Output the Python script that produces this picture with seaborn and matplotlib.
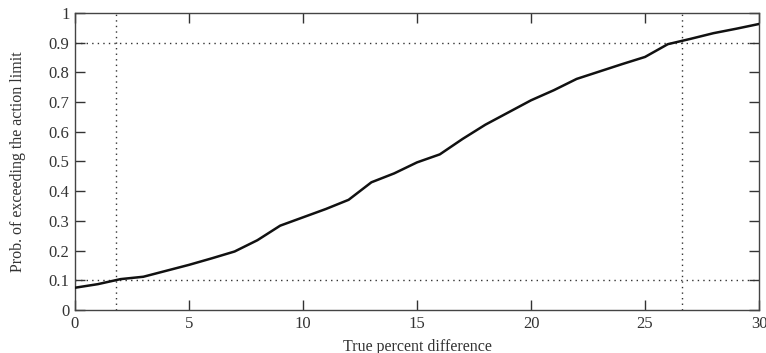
import numpy as np
import pandas as pd
import seaborn as sns
import matplotlib.pyplot as plt

# values
pct_diff = [0, 1, 2, 3, 4, 5, 6, 7, 8, 9, 10, 11, 12, 13, 14, 15,
            16, 17, 18, 19, 20, 21, 22, 23, 24, 25, 26, 27, 28, 29, 30]
prob_exceed = [0.075, 0.087, 0.104, 0.112, 0.132, 0.152, 0.174, 0.197, 0.235, 0.284, 0.312,
               0.340, 0.371, 0.430, 0.460, 0.497, 0.524, 0.576, 0.624, 0.665, 0.706,
               0.740, 0.778, 0.803, 0.828, 0.852, 0.895, 0.913, 0.932, 0.947, 0.963]
h_refs = [0.1, 0.9]
v_refs = [1.8, 26.6]
x_ticks = [0, 5, 10, 15, 20, 25, 30]
y_ticks = [0, 0.1, 0.2, 0.3, 0.4, 0.5, 0.6, 0.7, 0.8, 0.9, 1]

df = pd.DataFrame({'pct': pct_diff, 'prob': prob_exceed})

sns.set_style('ticks')
plt.rcParams['font.family'] = ['Liberation Serif', 'DejaVu Serif']

fig = plt.figure(figsize=(7.66, 3.53), dpi=100)
ax = fig.add_axes([0.0979, 0.1218, 0.893, 0.8414])

for y in h_refs:
    ax.axhline(y, color='#333333', linestyle=(0, (1, 3)), linewidth=1.0, zorder=1)
for x in v_refs:
    ax.axvline(x, color='#333333', linestyle=(0, (1, 3)), linewidth=1.0, zorder=1)

sns.lineplot(data=df, x='pct', y='prob', ax=ax, color='#111111', linewidth=1.8, zorder=3)

ax.set_xlim(0, 30)
ax.set_ylim(0, 1)
ax.set_xticks(x_ticks)
ax.set_xticklabels([str(t) for t in x_ticks])
ax.set_yticks(y_ticks)
ax.set_yticklabels(['0' if t == 0 else ('1' if t == 1 else f'{t:.1f}') for t in y_ticks])

ax.tick_params(direction='in', length=7, width=1, top=True, right=True,
               labelsize=12, labelcolor='#333333', color='#333333', pad=4)
for s in ax.spines.values():
    s.set_visible(True)
    s.set_color('#444444')
    s.set_linewidth(1.0)

ax.set_xlabel('True percent difference', fontsize=11.5, color='#333333', labelpad=5)
ax.set_ylabel('Prob. of exceeding the action limit', fontsize=11.5, color='#333333', labelpad=16)

fig.savefig('out.png', dpi=100)
